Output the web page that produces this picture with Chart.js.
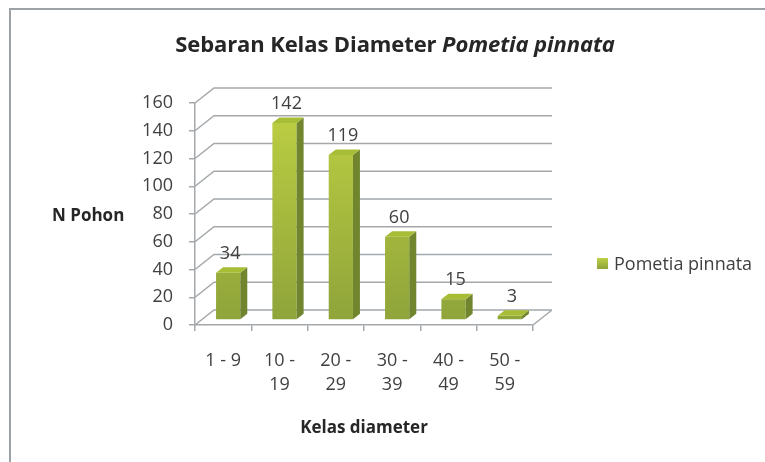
<!DOCTYPE html>
<html>
<head>
<meta charset="utf-8">
<script src="https://cdn.jsdelivr.net/npm/chart.js@4.4.1/dist/chart.umd.min.js"></script>
<style>
  html, body { margin: 0; padding: 0; background: #fff; }
  #wrap { position: relative; width: 765px; height: 462px; overflow: hidden; font-family: "Open Sans", sans-serif; color: #262626; }
  #frame { position: absolute; left: 9px; top: 8px; right: -10px; bottom: -10px; border-left: 2px solid #9da2a6; border-top: 2px solid #9da2a6; }
  #title { position: absolute; left: 0; width: 790px; top: 28px; text-align: center; font-weight: 700; font-size: 22px; letter-spacing: -0.1px; }
  #ytitle { position: absolute; left: 52px; top: 203px; font-weight: 700; font-size: 17px; }
  #legend { position: absolute; left: 597px; top: 251px; font-size: 18px; color: #404040; display: flex; align-items: center; }
  #legend span.box { width: 11px; height: 11px; margin-right: 6px; background: linear-gradient(#bdd046, #8ea33a); }
  canvas { position: absolute; left: 0; top: 0; }
</style>
</head>
<body>
<div id="wrap">
  <div id="frame"></div>
  <canvas id="chart" width="765" height="462"></canvas>
  <div id="title">Sebaran Kelas Diameter <i>Pometia pinnata</i></div>
  <div id="ytitle">N Pohon</div>
  <div id="legend"></div>
</div>
<script>
// data
const categories = ['1 - 9', ['10 -', '19'], ['20 -', '29'], ['30 -', '39'], ['40 -', '49'], ['50 -', '59']];
const values = [34, 142, 119, 60, 15, 3];
const seriesName = 'Pometia pinnata';
const yMin = 0, yMax = 160, yStep = 20;

const FONT = "'Open Sans', sans-serif";
const GRID = '#a4a8ab';
const TEXT = '#404040';
// 3d depth of back wall / bar offset / bar depth
const DX = 19, DY = 15;
const BX = 5, BY = 5;
const SX = 7, SY = 5.5;

document.getElementById('legend').innerHTML = '<span class="box"></span>' + seriesName;

const box3d = {
  id: 'box3d',
  beforeDatasetsDraw(chart) {
    const { ctx, chartArea: a } = chart;
    const ys = chart.scales.y;
    ctx.save();
    ctx.strokeStyle = GRID;
    ctx.lineWidth = 1.5;
    ctx.beginPath();
    ys.ticks.forEach(t => {
      const py = ys.getPixelForValue(t.value);
      ctx.moveTo(a.left, py);
      ctx.lineTo(a.left + DX, py - DY);
      ctx.lineTo(a.right + DX, py - DY);
    });
    ctx.moveTo(a.right, a.bottom);
    ctx.lineTo(a.right + DX, a.bottom - DY);
    ctx.stroke();
    ctx.restore();

    ctx.save();
    ctx.translate(BX, -BY);
  },
  afterDatasetsDraw(chart) {
    const { ctx } = chart;
    const meta = chart.getDatasetMeta(0);
    meta.data.forEach((bar, i) => {
      const l = bar.x - bar.width / 2, r = bar.x + bar.width / 2;
      const t = bar.y, b = bar.base;
      // side face
      ctx.fillStyle = '#71852f';
      ctx.beginPath();
      ctx.moveTo(r, t); ctx.lineTo(r + SX, t - SY); ctx.lineTo(r + SX, b - SY); ctx.lineTo(r, b);
      ctx.closePath(); ctx.fill();
      // top face
      ctx.fillStyle = '#a6bd35';
      ctx.beginPath();
      ctx.moveTo(l, t); ctx.lineTo(l + SX, t - SY); ctx.lineTo(r + SX, t - SY); ctx.lineTo(r, t);
      ctx.closePath(); ctx.fill();
      // value label
      ctx.fillStyle = TEXT;
      ctx.font = '18px ' + FONT;
      ctx.textAlign = 'center';
      ctx.textBaseline = 'middle';
      ctx.fillText(String(values[i]), bar.x + 2, t - 19);
    });
    ctx.restore();
  }
};

new Chart(document.getElementById('chart'), {
  type: 'bar',
  data: {
    labels: categories,
    datasets: [{
      label: seriesName,
      data: values,
      backgroundColor: c => {
        const a = c.chart.chartArea;
        if (!a) return '#a6bd35';
        const g = c.chart.ctx.createLinearGradient(0, a.top, 0, a.bottom);
        g.addColorStop(0, '#bfd143');
        g.addColorStop(1, '#8fa43a');
        return g;
      },
      borderWidth: 0,
      barPercentage: 0.43,
      categoryPercentage: 1
    }]
  },
  options: {
    responsive: false,
    animation: false,
    devicePixelRatio: 1,
    layout: { padding: { top: 103, right: 232, bottom: 22, left: 140 } },
    plugins: {
      legend: { display: false },
      tooltip: { enabled: false },
      title: { display: false }
    },
    scales: {
      x: {
        grid: { drawOnChartArea: false, drawTicks: true, tickLength: 6, color: GRID, lineWidth: 1.5, offset: true },
        border: { display: true, color: GRID, width: 1.5 },
        ticks: { color: TEXT, font: { family: FONT, size: 18, lineHeight: 1.33 }, padding: 18, maxRotation: 0, autoSkip: false },
        title: { display: true, text: 'Kelas diameter', color: '#262626', font: { family: FONT, size: 17, weight: 'bold' }, padding: { top: 0, bottom: 2 } },
        afterFit: s => { s.height = 115; }
      },
      y: {
        min: yMin,
        max: yMax,
        grid: { drawOnChartArea: false, drawTicks: true, tickLength: 6, color: GRID, lineWidth: 1.5 },
        border: { display: true, color: GRID, width: 1.5 },
        ticks: { stepSize: yStep, color: TEXT, font: { family: FONT, size: 18 }, padding: 16 },
        afterFit: s => { s.width = 55; }
      }
    }
  },
  plugins: [box3d]
});
</script>
</body>
</html>
